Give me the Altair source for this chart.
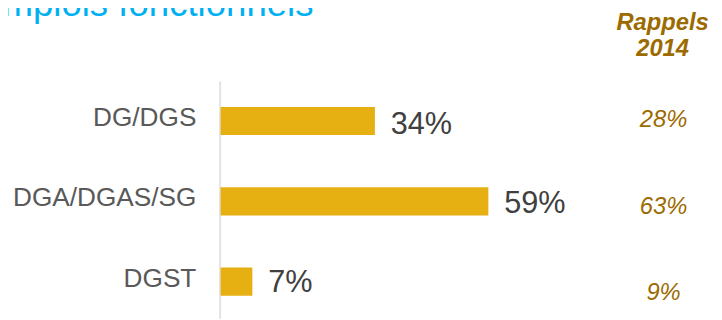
import altair as alt
import pandas as pd

categories = ["DG/DGS", "DGA/DGAS/SG", "DGST"]
values_current = [34, 59, 7]
value_labels = ["34%", "59%", "7%"]
values_2014 = [28, 63, 9]
recall_labels = ["28%", "63%", "9%"]
title_text = "Emplois fonctionnels"
header_lines = ["Rappels", "2014"]

df = pd.DataFrame({
    "cat": categories,
    "val": values_current,
    "lab": value_labels,
    "val2014": values_2014,
    "rec": recall_labels,
})
single = pd.DataFrame({"t": [title_text]})

W, H = 459, 240
FONT = "Liberation Sans"

x_enc = alt.X("val:Q", scale=alt.Scale(domain=[0, 100]), axis=None)
band_scale = alt.Scale(paddingInner=0.649, paddingOuter=0.3015, align=0.536)

bars = alt.Chart(df).mark_bar(color="#E6B012").encode(
    x=x_enc,
    y=alt.Y("cat:N", sort=categories, title=None, scale=band_scale,
            axis=alt.Axis(domain=True, domainColor="#E3E3E3", domainWidth=2,
                          ticks=False, grid=False, labelPadding=24,
                          labelFontSize=26.5, labelColor="#595959",
                          labelFont=FONT, labelOffset=-3, offset=1,
                          labelLimit=400)),
)

bar_labels = alt.Chart(df).mark_text(
    align="left", baseline="middle", dx=16, dy=2, fontSize=31,
    color="#404040", font=FONT,
).encode(
    x=x_enc,
    y=alt.Y("cat:N", sort=categories, scale=band_scale, axis=None),
    text="lab:N",
)

recall = alt.Chart(df).mark_text(
    align="center", baseline="middle", fontSize=24, fontStyle="italic",
    color="#9C6B00", font=FONT, dy=1,
).encode(
    x=alt.value(448),
    y=alt.Y("cat:N", sort=categories,
            scale=alt.Scale(type="point", padding=0.371, align=0.6), axis=None),
    text="rec:N",
)

title = alt.Chart(single).mark_text(
    align="right", baseline="alphabetic", fontSize=37, color="#00B0F0", font=FONT,
).encode(x=alt.value(94), y=alt.value(-66), text="t:N")

header = alt.Chart(single).mark_text(
    align="center", baseline="alphabetic", fontSize=24, fontStyle="italic",
    fontWeight="bold", color="#9C6B00", font=FONT, lineHeight=27,
    text=header_lines,
).encode(x=alt.value(447), y=alt.value(-52))

chart = alt.layer(bars, bar_labels, recall, title, header).resolve_scale(
    y="independent"
).properties(
    width=W, height=H,
    padding={"left": 215, "top": 72, "right": 40, "bottom": 0},
    autosize=alt.AutoSizeParams(type="none"),
    background="white",
).configure_view(stroke=None)

chart.save("out.html", embed_options={"renderer": "svg", "actions": False})
